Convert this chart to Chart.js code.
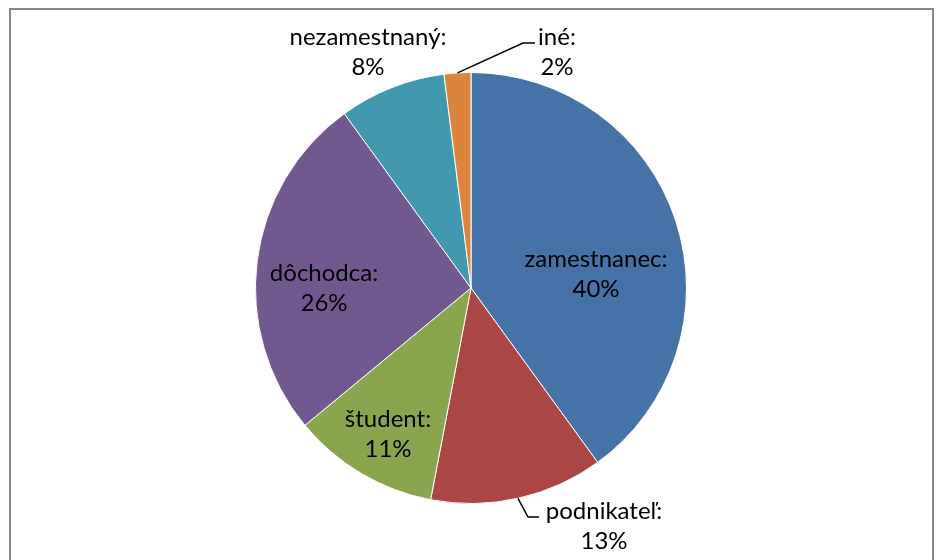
<!DOCTYPE html>
<html>
<head>
<meta charset="utf-8">
<title>Pie chart</title>
<script src="https://cdn.jsdelivr.net/npm/chart.js@4"></script>
<style>
    html, body { margin: 0; padding: 0; background: #fff; }
    #wrap { width: 936px; height: 560px; position: relative; }
</style>
</head>
<body>
<div id="wrap"><canvas id="pieChart" width="936" height="560"></canvas></div>
<script>
// Data
const categories = ['zamestnanec', 'podnikateľ', 'študent', 'dôchodca', 'nezamestnaný', 'iné'];
const shares = [40, 13, 11, 26, 8, 2];
const sliceColors = ['#4572A7', '#AA4643', '#89A54E', '#71588F', '#4198AF', '#DB843D'];

// Label placement, offsets in px from pie centre (x = text centre, y = first baseline)
const labelOffsets = [[125, -21], [133, 231], [-83, 139], [-147, -7], [-103, -243], [86, -243]];
// Leader lines for outside labels: elbow and end, offsets from pie centre
const leaderLines = { 1: [[57, 229], [68, 229]], 5: [[52, -245], [64, -245]] };

const labelFont = '24px Lato, "Open Sans", sans-serif';
const lineGap = 30;

// Frame around the chart area
const framePlugin = {
    id: 'frame',
    beforeDraw(chart) {
        const ctx = chart.ctx;
        ctx.save();
        ctx.fillStyle = '#fff';
        ctx.fillRect(0, 0, chart.width, chart.height);
        ctx.strokeStyle = '#878787';
        ctx.lineWidth = 2;
        ctx.strokeRect(10, 9, 923, 700);
        ctx.restore();
    }
};

// Draw "name:" / "nn%" labels and leader lines
const sliceLabels = {
    id: 'sliceLabels',
    afterDatasetsDraw(chart) {
        const ctx = chart.ctx;
        const arcs = chart.getDatasetMeta(0).data;
        ctx.save();
        arcs.forEach((arc, i) => {
            const cx = arc.x, cy = arc.y;
            if (leaderLines[i]) {
                const mid = (arc.startAngle + arc.endAngle) / 2;
                const r = arc.outerRadius;
                ctx.beginPath();
                ctx.moveTo(cx + Math.cos(mid) * r, cy + Math.sin(mid) * r);
                leaderLines[i].forEach(p => ctx.lineTo(cx + p[0], cy + p[1]));
                ctx.strokeStyle = '#000';
                ctx.lineWidth = 1.5;
                ctx.stroke();
            }
            const off = labelOffsets[i];
            ctx.font = labelFont;
            ctx.fillStyle = '#000';
            ctx.textAlign = 'center';
            ctx.textBaseline = 'alphabetic';
            ctx.fillText(categories[i] + ':', cx + off[0], cy + off[1]);
            ctx.fillText(shares[i] + '%', cx + off[0], cy + off[1] + lineGap);
        });
        ctx.restore();
    }
};

const ctx = document.getElementById('pieChart').getContext('2d');
new Chart(ctx, {
    type: 'pie',
    data: {
        labels: categories,
        datasets: [{
            data: shares,
            backgroundColor: sliceColors,
            borderColor: '#ffffff',
            borderWidth: 1,
        }],
    },
    options: {
        responsive: false,
        animation: false,
        layout: { padding: { top: 72, bottom: 56, left: 255, right: 249 } },
        plugins: {
            legend: { display: false },
            tooltip: { enabled: false },
        },
    },
    plugins: [framePlugin, sliceLabels],
});
</script>
</body>
</html>
